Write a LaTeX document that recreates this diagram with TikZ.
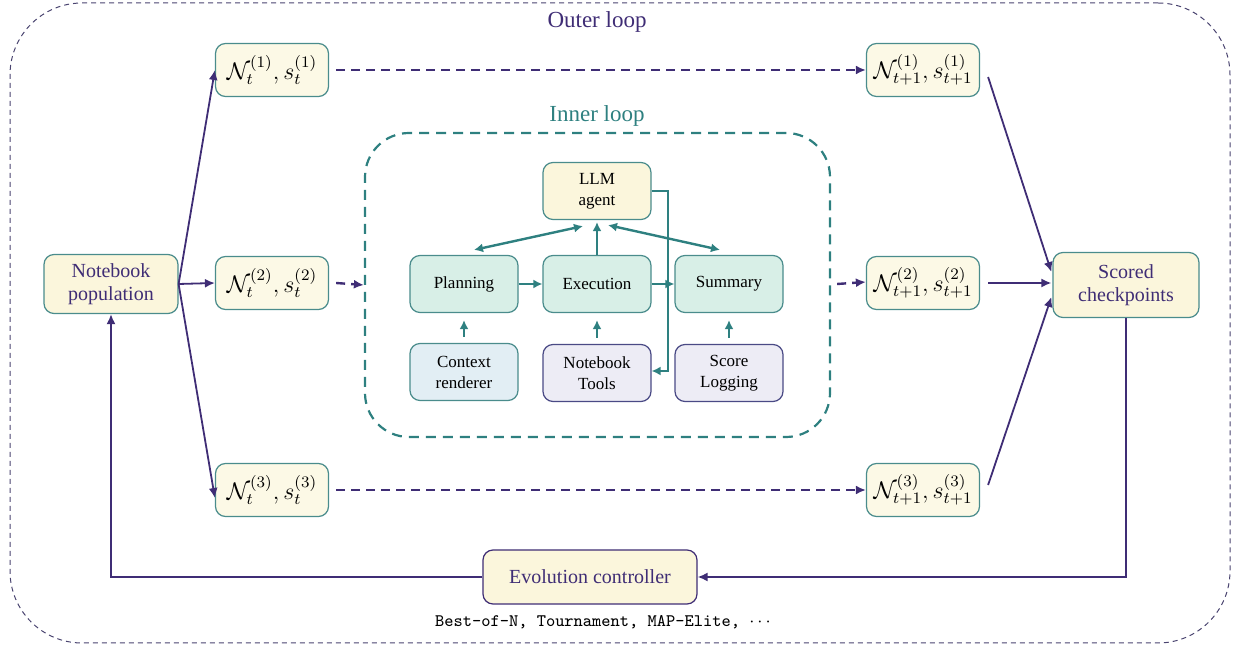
\documentclass[tikz,border=0pt]{standalone}
\usepackage{fontspec}
\setmainfont{Liberation Serif}
\usetikzlibrary{arrows.meta,calc}
\definecolor{pur}{HTML}{3F2D75}
\definecolor{tealc}{HTML}{2E8080}
\definecolor{bord}{HTML}{4A8C8C}
\definecolor{bordp}{HTML}{4A4A85}
\definecolor{yel}{HTML}{FBF6DC}
\definecolor{mint}{HTML}{D8EFE7}
\definecolor{lblue}{HTML}{E2EEF4}
\definecolor{lav}{HTML}{EDECF5}
\definecolor{outerd}{HTML}{4A4470}
\begin{document}
\begin{tikzpicture}[x=0.5pt,y=-0.5pt,
  box/.style={rounded corners=5pt, draw=bord, line width=0.6pt, align=center, inner sep=0pt},
  outbox/.style={box, fill=yel, text=pur, font=\fontsize{10}{11.5}\selectfont},
  stbox/.style={box, fill=yel!70!white, minimum width=56.5pt, minimum height=26.5pt, font=\fontsize{11.5}{12}\selectfont},
  inbox/.style={box, minimum width=54pt, minimum height=28.5pt, font=\fontsize{8.5}{10.5}\selectfont},
  parr/.style={draw=pur, line width=0.9pt, -{Latex[length=5pt,width=4.5pt]}},
  pdash/.style={parr, line width=1.2pt, dash pattern=on 4.5pt off 3pt},
  tarr/.style={draw=tealc, line width=1.2pt, -{Latex[length=4.5pt,width=4.5pt]}},
  tdarr/.style={tarr, {Latex[length=4.5pt,width=4.5pt]}-{Latex[length=4.5pt,width=4.5pt]}},
  looplabel/.style={font=\fontsize{11.5}{13}\selectfont}]
\useasboundingbox (0,0) rectangle (1233,646);
% outer loop
\node[draw=outerd, dash pattern=on 2.5pt off 2pt, line width=0.5pt, rounded corners=36pt,
  minimum width=610pt, minimum height=320pt, inner sep=0pt] (outer) at (620,323) {};
\node[looplabel, text=pur] (outerlbl) at (597,22) {Outer loop};
% inner loop
\node[draw=tealc, dash pattern=on 5pt off 3.5pt, line width=1.1pt, rounded corners=22pt,
  minimum width=232.5pt, minimum height=152pt, inner sep=0pt] (inner) at (597.5,285) {};
\node[looplabel, text=tealc] (innerlbl) at (597,116) {Inner loop};
% outer nodes
\node[outbox, minimum width=67pt, minimum height=29.5pt] (np) at (111,284) {Notebook\\population};
\node[stbox] (a1) at (272,70) {$\mathcal{N}_t^{(1)}, s_t^{(1)}$};
\node[stbox] (a2) at (272,283) {$\mathcal{N}_t^{(2)}, s_t^{(2)}$};
\node[stbox] (a3) at (272,490) {$\mathcal{N}_t^{(3)}, s_t^{(3)}$};
\node[stbox] (b1) at (923,70) {$\mathcal{N}_{t+1}^{(1)}, s_{t+1}^{(1)}$};
\node[stbox] (b2) at (923,283) {$\mathcal{N}_{t+1}^{(2)}, s_{t+1}^{(2)}$};
\node[stbox] (b3) at (923,490) {$\mathcal{N}_{t+1}^{(3)}, s_{t+1}^{(3)}$};
\node[outbox, minimum width=73pt, minimum height=32.5pt] (sc) at (1126,285) {Scored\\checkpoints};
\node[outbox, draw=pur, minimum width=107pt, minimum height=27pt] (evo) at (590,577) {Evolution controller};
\node[font=\fontsize{8.8}{10}\ttfamily] (strat) at (603,622) {Best-of-N, Tournament, MAP-Elite, $\cdots$};
% inner nodes
\node[inbox, fill=yel] (llm) at (597,191) {LLM\\agent};
\node[inbox, fill=mint] (plan) at (464,284) {Planning};
\node[inbox, fill=mint] (exec) at (597,284) {Execution};
\node[inbox, fill=mint] (summ) at (729,284) {Summary};
\node[inbox, fill=lblue] (ctx) at (464,372) {Context\\renderer};
\node[inbox, fill=lav, draw=bordp] (tools) at (597,373) {Notebook\\Tools};
\node[inbox, fill=lav, draw=bordp] (score) at (729,373) {Score\\Logging};
% inner arrows
\draw[tdarr] ($(plan.north)+(10,-5)$) -- ($(llm.south)+(-14,6)$);
\draw[tdarr] ($(llm.south)+(11,5)$) -- ($(summ.north)+(-9,-5)$);
\draw[tarr] (exec.north) -- ($(llm.south)+(0,2)$);
\draw[tarr] (plan.east) -- (exec.west);
\draw[tarr] (exec.east) -- (summ.west);
\draw[tarr] ($(ctx.north)+(0,-6)$) -- ($(plan.south)+(0,7)$);
\draw[tarr] ($(tools.north)+(0,-6)$) -- ($(exec.south)+(0,7)$);
\draw[tarr] ($(score.north)+(0,-6)$) -- ($(summ.south)+(0,7)$);
\coordinate (rt) at (668,191);
\draw[tarr] (llm.east) -- (rt) |- ($(tools.east)+(0,-2)$);
% outer arrows
\draw[parr] (np.east) -- (a1.west);
\draw[parr] (np.east) -- (a2.west);
\draw[parr] (np.east) -- ($(a3.west)+(0,8)$);
\draw[pdash] ($(a1.east)+(7,0)$) -- (b1.west);
\draw[pdash] ($(a3.east)+(7,0)$) -- (b3.west);
\draw[pdash] ($(a2.east)+(7,0)$) -- (inner.west);
\draw[pdash] ($(inner.east)+(6,-1)$) -- ($(b2.west)+(0,-1)$);
\draw[parr] ($(b1.east)+(8,7)$) -- ($(sc.west)+(-1,-13)$);
\draw[parr] ($(b2.east)+(8,0)$) -- ($(sc.west)+(-1,-2)$);
\draw[parr] ($(b3.east)+(8,-5)$) -- ($(sc.west)+(-1,12)$);
\draw[parr] (sc.south) |- (evo.east);
\draw[parr] (evo.west) -| (np.south);
\end{tikzpicture}
\end{document}
